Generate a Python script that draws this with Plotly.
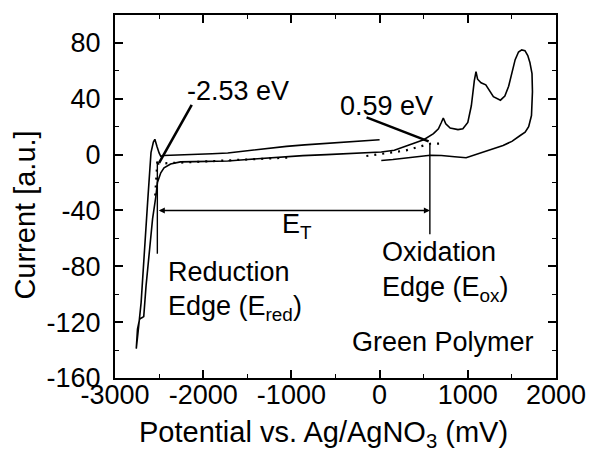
import plotly.graph_objects as go

# ---- cyclic voltammogram (potential in mV, current in a.u.) ----
potential_mv = [
    0, -150, -315, -500, -648, -850, -1056, -1300, -1500, -1722, -1900, -2100,
    -2300, -2407, -2450, -2481, -2500, -2525, -2548, -2565, -2581, -2592,
    -2630, -2667, -2704, -2740, -2759,
    -2745, -2722, -2700, -2674, -2648, -2611, -2574, -2537, -2519, -2481,
    -2444, -2370, -2259, -2100, -1889, -1722, -1500, -1300, -1056, -870,
    -600, -244, 19, 167, 241, 350, 500, 611, 667, 700, 722, 750, 800, 889,
    944, 1000, 1040, 1074, 1093, 1111, 1150, 1204, 1241, 1290, 1370, 1420,
    1463, 1500, 1537, 1575, 1611, 1648, 1680, 1704, 1728, 1733, 1730, 1722,
    1690, 1650, 1590, 1500, 1400, 1300, 1150, 981, 850, 700, 574, 450, 300,
    150, 19,
]
current_au = [
    10.6, 10.0, 9.0, 8.5, 8.2, 7.0, 5.9, 4.0, 2.5, 1.2, 0.6, 0.2,
    0.0, 0.0, -0.6, -1.2, 1.2, 6.0, 11.0, 9.0, 5.0, 1.4,
    -34, -70, -106, -128, -139,
    -125, -118, -117, -116, -94, -70, -46, -30, -20, -13,
    -9.5, -6.7, -5.2, -5.0, -4.8, -4.6, -3.5, -2.5, -1.5, -0.7,
    0.0, 1.2, 1.9, 3.1, 4.8, 7.5, 10.7, 15.0, 18.5, 23.0, 26.2, 22.0, 19.0, 17.9,
    18.5, 23.0, 35.0, 53.0, 59.5, 54.0, 51.5, 50.0, 46.0, 41.5, 39.0, 42.0,
    49.0, 58.0, 68.0, 73.5, 75.0, 74.5, 71.0, 66.0, 58.0, 45.0, 35.0, 28.0,
    20.0, 16.0, 13.5, 9.5, 6.5, 4.5, 1.0, -2.2, -1.5, -0.6, -0.5, -1.5, -2.5,
    -3.5, -4.2,
]

# ---- edge construction (onset analysis) ----
red_edge_x = -2520
red_edge_y = [-5, -71]
ox_edge_x = 570
ox_edge_y = [8, -57]
gap_y = -40

red_tan_x = [-2520, -2548]
red_tan_y = [-5, -33]
red_base_x = [-2520, -1000]
red_base_y = [-6.5, -2.0]
ox_base_x = [-150, 300, 574, 720]
ox_base_y = [-1.0, 3.0, 7.8, 8.0]

red_ptr_x = [-2130, -2500]
red_ptr_y = [35.7, -5.9]
ox_ptr_x = [-148, 556]
ox_ptr_y = [26.7, 9.5]

x_ticks = [-3000, -2000, -1000, 0, 1000, 2000]
x_tick_text = ["-3000", "-2000", "-1000", "0", "1000", "2000"]
y_ticks = [-160, -120, -80, -40, 0, 40, 80]
y_tick_text = ["-160", "-120", "-80", "-40", "0", "40", "80"]

FONT = "Liberation Sans, Arial, sans-serif"
fig = go.Figure()

line_k = dict(color="black", width=1.6)
fig.add_trace(go.Scatter(x=potential_mv, y=current_au, mode="lines",
                         line=line_k, showlegend=False, hoverinfo="skip"))

# dotted tangents
for xs, ys in [(red_tan_x, red_tan_y), (red_base_x, red_base_y), (ox_base_x, ox_base_y)]:
    fig.add_trace(go.Scatter(x=xs, y=ys, mode="lines",
                             line=dict(color="black", width=2.2, dash="2px,6px"),
                             showlegend=False, hoverinfo="skip"))

# vertical edge lines
fig.add_trace(go.Scatter(x=[red_edge_x, red_edge_x], y=red_edge_y, mode="lines",
                         line=dict(color="black", width=1.4), showlegend=False))
fig.add_trace(go.Scatter(x=[ox_edge_x, ox_edge_x], y=ox_edge_y, mode="lines",
                         line=dict(color="black", width=1.4), showlegend=False))

# pointer lines
for xs, ys in [(red_ptr_x, red_ptr_y), (ox_ptr_x, ox_ptr_y)]:
    fig.add_trace(go.Scatter(x=xs, y=ys, mode="lines",
                             line=dict(color="black", width=2.6),
                             showlegend=False, hoverinfo="skip"))

ann = []
# E_T double arrow
ann.append(dict(x=ox_edge_x, y=gap_y, ax=red_edge_x, ay=gap_y, xref="x", yref="y",
                axref="x", ayref="y", text="", showarrow=True, arrowhead=2,
                arrowside="end+start", arrowsize=0.8, arrowwidth=1.5, arrowcolor="black"))

def txt(x, y, s, xanchor="center"):
    ann.append(dict(x=x, y=y, xref="x", yref="y", text=s, showarrow=False,
                    xanchor=xanchor, yanchor="middle",
                    font=dict(family=FONT, size=27, color="black")))

txt(-1606, 45.5, "-2.53 eV")
txt(83, 35, "0.59 eV")
txt(-1133, -51, "E<sub>T</sub>", xanchor="left")
txt(-2422, -84, "Reduction", xanchor="left")
txt(-2422, -110, "Edge (E<sub>red</sub>)", xanchor="left")
txt(0, -70, "Oxidation", xanchor="left")
txt(0, -96, "Edge (E<sub>ox</sub>)", xanchor="left")
txt(-333, -134, "Green Polymer", xanchor="left")

# axis titles
ann.append(dict(x=0.473, y=-0.155, xref="paper", yref="paper",
                text="Potential vs. Ag/AgNO<sub>3</sub> (mV)", showarrow=False,
                xanchor="center", yanchor="middle",
                font=dict(family=FONT, size=29, color="black")))
ann.append(dict(x=-0.205, y=0.449, xref="paper", yref="paper",
                text="Current [a.u.]", showarrow=False, textangle=-90,
                xanchor="center", yanchor="middle",
                font=dict(family=FONT, size=29, color="black")))

axis_common = dict(showline=True, linecolor="black", linewidth=2, mirror="allticks",
                   ticks="inside", ticklen=8, tickwidth=1.5, tickcolor="black",
                   showgrid=False, zeroline=False,
                   tickfont=dict(family=FONT, size=27, color="black"))

fig.update_layout(
    width=598, height=459,
    margin=dict(l=115, r=33, t=15, b=81),
    paper_bgcolor="white", plot_bgcolor="white",
    showlegend=False,
    annotations=ann,
    xaxis=dict(range=[-3000, 2000], tickvals=x_ticks, ticktext=x_tick_text,
               minor=dict(ticks="inside", dtick=500, tick0=0, ticklen=4,
                          tickwidth=1.2, tickcolor="black"),
               ticklabelstandoff=-8, **axis_common),
    yaxis=dict(range=[-160, 100], tickvals=y_ticks, ticktext=y_tick_text,
               minor=dict(ticks="inside", dtick=20, tick0=0, ticklen=4,
                          tickwidth=1.2, tickcolor="black"),
               ticklabelstandoff=7, **axis_common),
)

fig.write_html("out.html")
